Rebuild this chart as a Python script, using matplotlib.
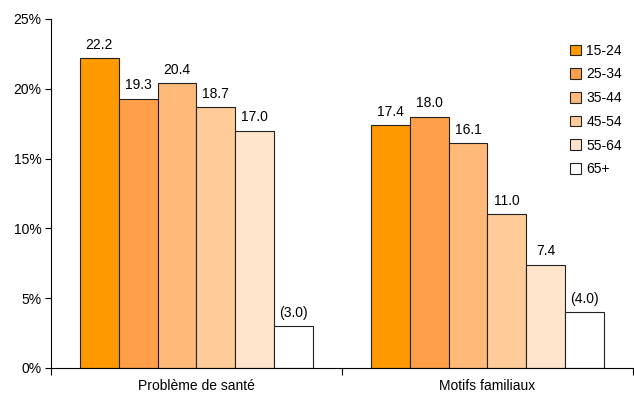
import numpy as np
import matplotlib.pyplot as plt

plt.rcParams['font.family'] = ['Liberation Sans', 'DejaVu Sans']

categories = ['Problème de santé', 'Motifs familiaux']
age_groups = ['15-24', '25-34', '35-44', '45-54', '55-64', '65+']
values = [
    [22.2, 17.4],
    [19.3, 18.0],
    [20.4, 16.1],
    [18.7, 11.0],
    [17.0, 7.4],
    [3.0, 4.0],
]
labels = [
    ['22.2', '17.4'],
    ['19.3', '18.0'],
    ['20.4', '16.1'],
    ['18.7', '11.0'],
    ['17.0', '7.4'],
    ['(3.0)', '(4.0)'],
]
colors = ['#FF9900', '#FF9F4A', '#FFB978', '#FFCC99', '#FFE5CC', '#FFFFFF']

fig = plt.figure(figsize=(6.34, 3.99), dpi=100)
ax = fig.add_axes([0.0804, 0.0777, 0.918, 0.8747])

index = np.arange(len(categories))
bar_width = 0.1336

for i, (grp, vals) in enumerate(zip(age_groups, values)):
    pos = index + (i - 2.5) * bar_width
    bars = ax.bar(pos, vals, bar_width, color=colors[i], edgecolor='#222222',
                  linewidth=0.8, label=grp)
    for b, txt in zip(bars, labels[i]):
        ax.text(b.get_x() + b.get_width() / 2, b.get_height() + 0.45, txt,
                ha='center', va='bottom', fontsize=10)

ax.set_xlim(-0.5, 1.5)
ax.set_ylim(0, 25)
ax.set_yticks(np.arange(0, 26, 5))
ax.set_yticklabels([f'{v}%' for v in range(0, 26, 5)], fontsize=10)
ax.set_xticks(index)
ax.set_xticklabels(categories, fontsize=10)
ax.set_xticks([-0.5, 0.5, 1.5], minor=True)
ax.tick_params(axis='x', which='major', length=0, pad=8)
ax.tick_params(axis='x', which='minor', length=5, width=0.8)
ax.tick_params(axis='y', length=4, width=0.8, pad=3)

for side in ['top', 'right']:
    ax.spines[side].set_visible(False)
ax.spines['left'].set_linewidth(0.8)
ax.spines['bottom'].set_linewidth(0.8)

leg = ax.legend(loc='upper left', bbox_to_anchor=(0.87, 0.965), frameon=False,
                fontsize=10, handlelength=0.8, handleheight=0.8,
                handletextpad=0.4, labelspacing=0.7)

fig.savefig('out.png', dpi=100)
